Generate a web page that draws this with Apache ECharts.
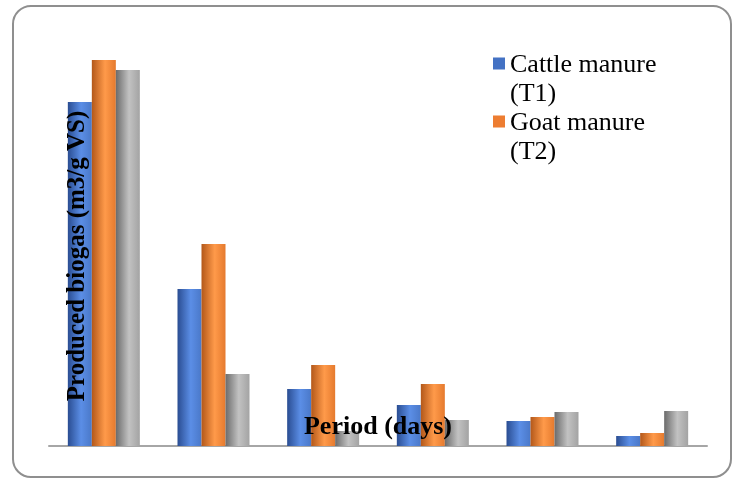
<!DOCTYPE html>
<html>
<head>
<meta charset="utf-8">
<script src="https://cdn.jsdelivr.net/npm/echarts@6/dist/echarts.min.js"></script>
<style>
html,body{margin:0;padding:0;background:#fff;}
#chart{width:734px;height:482px;}
</style>
</head>
<body>
<div id="chart"></div>
<script>
var categories = ['Period 1', 'Period 2', 'Period 3', 'Period 4', 'Period 5', 'Period 6'];
var cattleT1 = [0.344, 0.157, 0.057, 0.041, 0.025, 0.010];
var goatT2 = [0.386, 0.202, 0.081, 0.062, 0.029, 0.013];
var mixT3 = [0.376, 0.072, 0.015, 0.026, 0.034, 0.035];
var seriesNames = ['Cattle manure\n(T1)', 'Goat manure\n(T2)', 'Mixture (T3)'];
var yTitle = 'Produced biogas (m3/g VS)';
var xTitle = 'Period (days)';

function grad(dark, light, mid) {
  return new echarts.graphic.LinearGradient(0, 0, 1, 0, [
    {offset: 0, color: dark},
    {offset: 0.55, color: light},
    {offset: 1, color: mid}
  ]);
}

var chart = echarts.init(document.getElementById('chart'));
var iconPath = 'path://M0,0h12v12h-12z M0,44.9h0.1v0.1h-0.1z';
chart.setOption({
  animation: false,
  backgroundColor: '#fff',
  grid: {left: 49, right: 27, top: 46, bottom: 36},
  legend: {
    data: [
      {name: seriesNames[0], icon: iconPath, itemStyle: {color: '#4472c4'}},
      {name: seriesNames[1], icon: iconPath, itemStyle: {color: '#ed7d31'}}
    ],
    orient: 'vertical',
    left: 488,
    top: 46,
    itemGap: 0,
    itemWidth: 12,
    itemHeight: 45,
    textStyle: {fontFamily: 'Liberation Serif', fontSize: 26, lineHeight: 29, color: '#000'}
  },
  xAxis: {
    type: 'category',
    data: categories,
    axisLine: {lineStyle: {color: '#a6a6a6', width: 2}},
    axisTick: {show: false},
    axisLabel: {show: false}
  },
  yAxis: {
    type: 'value',
    min: 0,
    max: 0.4,
    show: false
  },
  series: [
    {
      name: seriesNames[0], type: 'bar', data: cattleT1, barWidth: 24, barGap: '0%',
      itemStyle: {color: grad('#2a4d92', '#5b8ee6', '#4a78c8')}
    },
    {
      name: seriesNames[1], type: 'bar', data: goatT2, barWidth: 24, barGap: '0%',
      itemStyle: {color: grad('#b3581a', '#ff9a4a', '#e57a2e')}
    },
    {
      name: seriesNames[2], type: 'bar', data: mixT3, barWidth: 24, barGap: '0%',
      itemStyle: {color: grad('#6b6b6b', '#c2c2c2', '#a3a3a3')}
    }
  ],
  graphic: [
    {
      type: 'rect', silent: true, z: -1,
      shape: {x: 13, y: 6, width: 718, height: 471, r: 18},
      style: {fill: 'none', stroke: '#8f8f8f', lineWidth: 2}
    },
    {
      type: 'text', z: 100,
      x: 78, y: 256, rotation: Math.PI / 2,
      style: {text: yTitle, fontFamily: 'Liberation Serif', fontWeight: 'bold', fontSize: 25, fill: '#000', align: 'center', verticalAlign: 'middle'}
    },
    {
      type: 'text', z: 100,
      x: 378, y: 427,
      style: {text: xTitle, fontFamily: 'Liberation Serif', fontWeight: 'bold', fontSize: 26, fill: '#000', align: 'center', verticalAlign: 'middle'}
    }
  ]
});
</script>
</body>
</html>
